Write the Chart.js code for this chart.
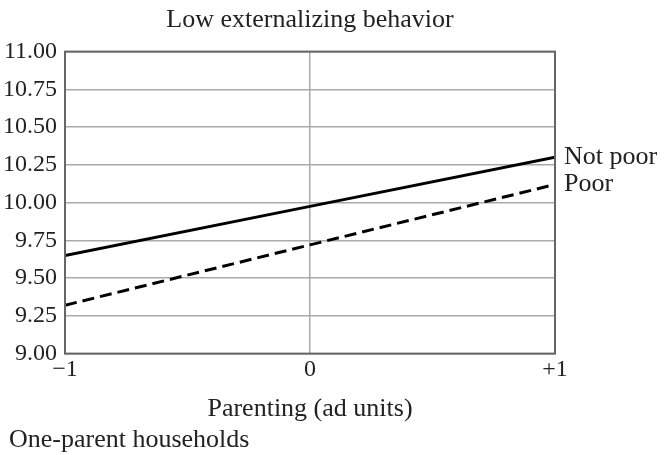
<!DOCTYPE html>
<html><head><meta charset="utf-8">
<script src="https://cdn.jsdelivr.net/npm/chart.js@4/dist/chart.umd.min.js"></script>
<style>html,body{margin:0;padding:0;background:#fff}#wrap{width:665px;height:455px}</style>
</head><body><div id="wrap"><canvas id="c" width="665" height="455"></canvas></div>
<script>
const parenting = [-1, 0, 1];
const notPoor = [9.65, 9.975, 10.30];
const poor = [9.32, 9.72, 10.12];
const seriesNames = ['Not poor', 'Poor'];
const yTicks = [9.00, 9.25, 9.50, 9.75, 10.00, 10.25, 10.50, 10.75, 11.00];
const xTickLabels = {'-1': '\u22121', '0': '0', '1': '+1'};
const panelNote = 'One-parent households';

const FONT = "'Liberation Serif', serif";
const TXT = '#222';
const TEXT_FONT = { family: FONT, size: 26, lineHeight: 1.1 };
const TICK_FONT = { family: FONT, size: 24 };

const endLabels = {
  id: 'endLabels',
  afterDatasetsDraw(chart) {
    const ctx = chart.ctx;
    ctx.save();
    ctx.font = `26px ${FONT}`;
    ctx.fillStyle = TXT;
    ctx.textBaseline = 'middle';
    chart.data.datasets.forEach((ds, i) => {
      const meta = chart.getDatasetMeta(i);
      const pt = meta.data[meta.data.length - 1];
      ctx.fillText(ds.label, pt.x + 9, pt.y);
    });
    ctx.fillText(panelNote, 9, chart.height - 15);
    ctx.restore();
  }
};
const frame = {
  id: 'frame',
  afterDatasetsDraw(chart) {
    const a = chart.chartArea, ctx = chart.ctx;
    ctx.save();
    ctx.strokeStyle = '#666';
    ctx.lineWidth = 2;
    ctx.strokeRect(a.left, a.top, a.right - a.left, a.bottom - a.top);
    ctx.restore();
  }
};

new Chart(document.getElementById('c'), {
  type: 'line',
  data: {
    datasets: [
      { label: seriesNames[0], data: parenting.map((x, i) => ({x, y: notPoor[i]})),
        borderColor: '#000', borderWidth: 3, pointRadius: 0, fill: false },
      { label: seriesNames[1], data: parenting.map((x, i) => ({x, y: poor[i]})),
        borderColor: '#000', borderWidth: 3, borderDash: [12, 6], pointRadius: 0, fill: false }
    ]
  },
  options: {
    responsive: false,
    animation: false,
    layout: { padding: { left: 0, right: 110, top: 0, bottom: 32 } },
    plugins: {
      legend: { display: false },
      tooltip: { enabled: false }
    },
    scales: {
      x: {
        type: 'linear', min: -1, max: 1,
        ticks: { stepSize: 1, color: TXT, font: TICK_FONT, padding: 2,
                 callback: v => xTickLabels[String(v)] },
        grid: { color: '#aaa', lineWidth: 1.5, drawTicks: false },
        border: { display: false },
        title: { display: true, text: 'Parenting (ad units)', color: TXT,
                 font: TEXT_FONT, padding: { top: 8, bottom: 0 } }
      },
      xTop: {
        type: 'linear', position: 'top', min: -1, max: 1,
        ticks: { display: false },
        grid: { display: false, drawTicks: false },
        border: { display: false },
        title: { display: true, text: 'Low externalizing behavior', color: TXT,
                 font: TEXT_FONT, padding: { top: 6, bottom: 17 } }
      },
      y: {
        min: 9, max: 11,
        afterBuildTicks: s => { s.ticks = yTicks.map(v => ({value: v})); },
        afterFit: s => { s.width = 65; },
        ticks: { color: TXT, font: TICK_FONT, padding: 8,
                 callback: v => Number(v).toFixed(2) },
        grid: { color: '#aaa', lineWidth: 1.5, drawTicks: false },
        border: { display: false }
      }
    }
  },
  plugins: [endLabels, frame]
});
</script>
</body></html>
